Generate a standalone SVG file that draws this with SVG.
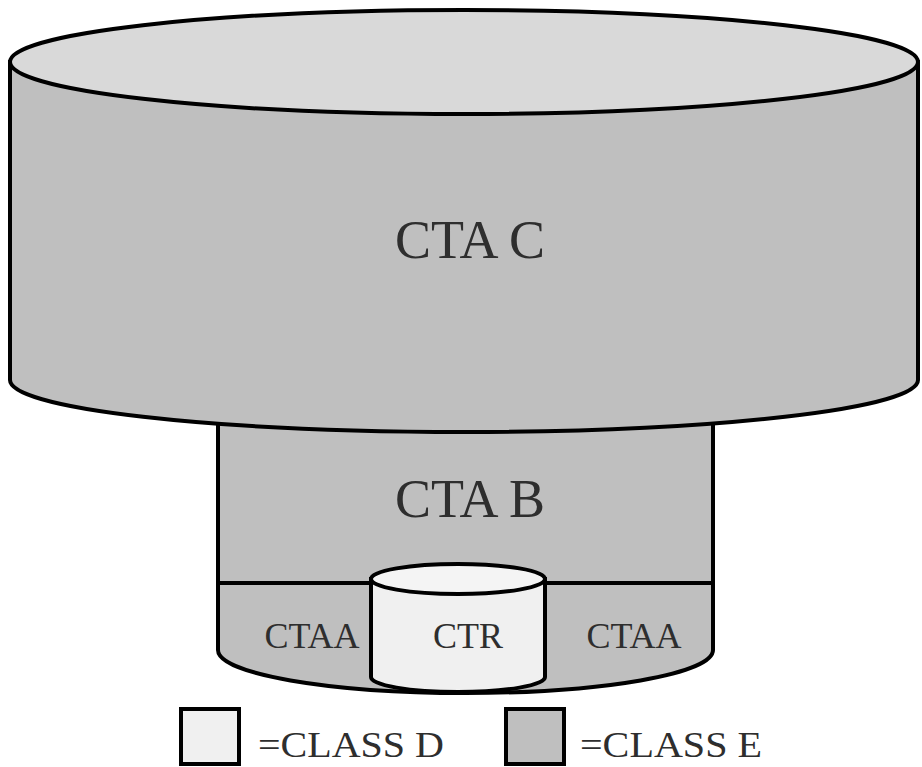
<svg xmlns="http://www.w3.org/2000/svg" width="922" height="767" viewBox="0 0 922 767">
<style>
.shape{stroke:#000;stroke-width:4}
.e{fill:#bfbfbf}
.d{fill:#f0f0f0}
.lbl{font-family:"Liberation Serif","Times New Roman",serif;fill:#2e2e2e;text-anchor:middle}
</style>
<rect width="922" height="767" fill="#fff"/>
<g id="cta-b">
<path class="shape e" d="M218,400 L218,650 A247.5,43 0 0 0 713,650 L713,400 Z"/>
<line class="shape" x1="218" y1="583" x2="713" y2="583"/>
<text class="lbl" x="470" y="517" font-size="54">CTA B</text>
</g>
<g id="cta-aa-left">
<text class="lbl" x="312" y="648" font-size="36">CTAA</text>
</g>
<g id="cta-aa-right">
<text class="lbl" x="634" y="648" font-size="36">CTAA</text>
</g>
<g id="cta-c">
<path class="shape e" d="M10,62 L10,380 A454,52 0 0 0 918,380 L918,62 Z"/>
<ellipse class="shape" cx="464" cy="62" rx="454" ry="52" fill="#d9d9d9"/>
<text class="lbl" x="470" y="258" font-size="54">CTA C</text>
</g>
<g id="ctr">
<path class="shape d" d="M371,579 L371,677 A87,15 0 0 0 545,677 L545,579 Z"/>
<ellipse class="shape" cx="458" cy="579" rx="87" ry="15" fill="#f4f4f4"/>
<text class="lbl" x="468" y="648" font-size="36">CTR</text>
</g>
<g id="legend-d">
<rect class="shape d" x="181" y="709" width="58" height="55" stroke-width="5"/>
<text class="lbl" x="351" y="757" font-size="36" textLength="186" lengthAdjust="spacingAndGlyphs">=CLASS D</text>
</g>
<g id="legend-e">
<rect class="shape e" x="506" y="709" width="58" height="55" stroke-width="5"/>
<text class="lbl" x="671" y="757" font-size="36" textLength="182" lengthAdjust="spacingAndGlyphs">=CLASS E</text>
</g>
<g id="connectors"></g>
</svg>
